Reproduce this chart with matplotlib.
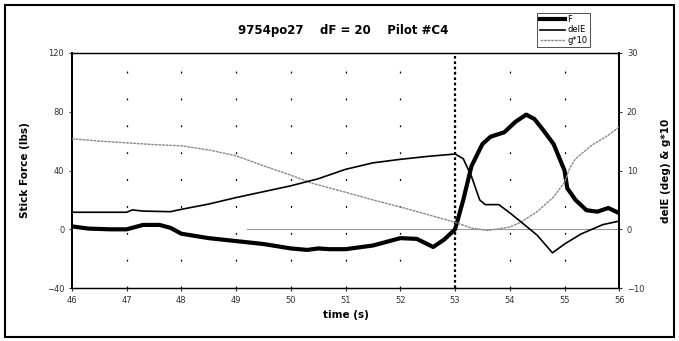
import matplotlib
matplotlib.use("Agg")
import matplotlib.pyplot as plt
from matplotlib.patches import Rectangle

# ---- data ----
t_F = [46.0, 46.3, 46.7, 47.0, 47.3, 47.6, 47.8, 48.0, 48.5, 49.0, 49.5, 50.0, 50.3, 50.5, 50.7,
       51.0, 51.5, 52.0, 52.3, 52.6, 52.8, 53.0, 53.15, 53.3, 53.5, 53.65, 53.9, 54.1, 54.3,
       54.45, 54.6, 54.8, 55.0, 55.05, 55.2, 55.4, 55.6, 55.8, 56.0]
F = [2, 0.5, 0, 0, 3, 3, 1, -3, -6, -8, -10, -13, -14, -13, -13.5,
     -13.5, -11, -6, -6.5, -12, -7, 0, 20, 43, 58, 63, 66, 73, 78,
     75, 68, 58, 40, 28, 20, 13, 12, 14.5, 11]

t_delE = [46.0, 47.0, 47.1, 47.3, 47.8, 48.0, 48.5, 49.0, 49.5, 50.0, 50.5, 51.0, 51.5, 52.0,
          52.5, 53.0, 53.15, 53.3, 53.45, 53.55, 53.8, 54.0, 54.2, 54.5, 54.78, 55.0, 55.3,
          55.7, 56.0]
delE = [2.9, 2.9, 3.3, 3.1, 3.0, 3.4, 4.3, 5.4, 6.4, 7.4, 8.6, 10.2, 11.3, 11.9,
        12.4, 12.8, 12.0, 9.0, 5.0, 4.2, 4.2, 2.8, 1.3, -1.0, -4.0, -2.5, -0.8,
        0.8, 1.4]

t_g = [46.0, 46.5, 47.0, 47.5, 48.0, 48.5, 49.0, 49.5, 50.0, 50.4, 51.0, 51.5, 52.0, 52.5,
       53.0, 53.3, 53.6, 54.0, 54.2, 54.5, 54.8, 55.0, 55.1, 55.2, 55.5, 55.8, 56.0]
g10 = [15.4, 15.0, 14.7, 14.4, 14.2, 13.5, 12.5, 10.8, 9.2, 7.8, 6.3, 5.0, 3.8, 2.5,
       1.2, 0.2, -0.2, 0.4, 1.2, 3.0, 5.5, 8.0, 10.5, 12.0, 14.3, 16.0, 17.4]

x_ticks = [46, 47, 48, 49, 50, 51, 52, 53, 54, 55, 56]
left_ticks = [-40, 0, 40, 80, 120]
right_ticks = [-10, 0, 10, 20, 30]
event_time = 53

fig = plt.figure(figsize=(6.79, 3.41), dpi=100)
fig.patches.append(Rectangle((0.008, 0.012), 0.984, 0.972, transform=fig.transFigure,
                             fill=False, edgecolor="black", linewidth=1.5))

ax = fig.add_axes([0.106, 0.155, 0.806, 0.69])
ax2 = ax.twinx()

ax.set_xlim(46, 56)
ax.set_ylim(-40, 120)
ax2.set_ylim(-10, 30)

for xt in x_ticks[1:-1]:
    ax.axvline(xt, color="black", linewidth=0.9, linestyle=(0, (1.5, 20)), zorder=1)
ax.axhline(0, xmin=0.32, xmax=1.0, color="#999999", linewidth=0.8, zorder=1)
ax.axvline(event_time, color="black", linewidth=1.6, linestyle=(0, (1.2, 1.2)), zorder=2)

lF, = ax.plot(t_F, F, color="black", linewidth=3.0, zorder=5, label="F")
ld, = ax2.plot(t_delE, delE, color="black", linewidth=1.2, zorder=4, label="delE")
lg, = ax2.plot(t_g, g10, color="#8a8a8a", linewidth=1.0, linestyle=(0, (2, 0.6)), zorder=3, label="g*10")

ax.set_xticks(x_ticks)
ax.set_yticks(left_ticks)
ax2.set_yticks(right_ticks)
ax.tick_params(axis="both", labelsize=6, length=2, colors="#333333")
ax2.tick_params(axis="y", labelsize=6, length=2, colors="#333333")

for a in (ax, ax2):
    a.spines["top"].set_linestyle((0, (1, 1)))
    a.spines["bottom"].set_linestyle((0, (1, 1)))
    a.spines["top"].set_linewidth(0.9)
    a.spines["bottom"].set_linewidth(0.9)
    a.spines["left"].set_linewidth(1.3)
    a.spines["right"].set_linewidth(1.3)

ax.set_xlabel("time (s)", fontsize=7.5, fontweight="bold", labelpad=4)
ax.set_ylabel("Stick Force (lbs)", fontsize=7.5, fontweight="bold", labelpad=12)
ax2.set_ylabel("delE (deg) & g*10", fontsize=7.5, fontweight="bold", labelpad=12)

fig.text(0.505, 0.91, "9754po27    dF = 20    Pilot #C4", ha="center", va="center",
         fontsize=8.5, fontweight="bold")

leg = fig.legend(handles=[lF, ld, lg], loc="upper left", bbox_to_anchor=(0.785, 0.975),
                 fontsize=6, frameon=True, fancybox=False, edgecolor="black",
                 handlelength=3, handletextpad=0.3, borderpad=0.3, labelspacing=0.15)
leg.get_frame().set_linewidth(0.6)

fig.savefig("out.png", dpi=100)
